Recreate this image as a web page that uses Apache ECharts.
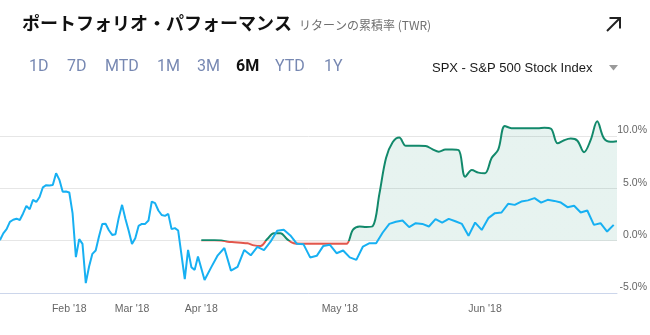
<!DOCTYPE html>
<html>
<head>
<meta charset="utf-8">
<script src="https://cdn.jsdelivr.net/npm/echarts@6/dist/echarts.min.js"></script>
<style>
html,body{margin:0;padding:0;background:#fff;}
#chart{width:650px;height:335px;}
#err{position:absolute;left:0;top:90px;font:9px monospace;color:#c00;white-space:pre-wrap;width:650px;}
</style>
</head>
<body>
<div id="chart"></div>
<div id="err"></div>
<script>
// ---------------- data ----------------
const holidays = ['2018-01-15', '2018-02-19', '2018-03-30', '2018-05-28'];
const firstDay = '2018-01-02';
const lastDay = '2018-06-29';
const portfolioStart = '2018-04-02';

// S&P 500 cumulative return (%) – trading days Jan 2 .. Mar 29
const spxBeforePortfolio = [
  0.05, 0.7, 1.1, 1.8, 2.0, 2.1, 1.98, 2.6, 3.32, 3.0,
  3.9, 3.7, 4.17, 5.1, 5.3, 5.28, 5.31, 6.45, 5.81, 4.68,
  4.7, 4.6, 2.6, -1.57, 0.15, -0.31, -4.06, -2.47, -1.26, -0.94,
  0.39, 1.59, 1.62, 1.0, 0.55, 0.62, 2.2, 3.42, 2.1, 0.95,
  -0.31, 0.24, 1.41, 1.6, 1.6, 1.92, 3.74, 3.58, 2.88, 2.45,
  2.37, 2.56, 1.1, 1.2, 0.97, -1.36, -3.68, -0.88, -2.53, -2.79,
  -1.52
];
// S&P 500 cumulative return (%) – trading days Apr 2 .. Jun 28
const spxWithPortfolio = [
  -3.75, -2.55, -1.4, -0.7, -2.86, -2.5, -0.9, -1.4, -0.6, -0.9,
  -0.1, 0.95, 1.05, 0.5, -0.3, -0.35, -1.6, -1.45, -0.5, -0.4,
  -1.2, -0.94, -1.6, -1.84, -0.56, -0.24, -0.24, 0.78, 1.6, 1.8,
  1.92, 1.29, 1.67, 1.6, 1.35, 2.06, 1.73, 2.08, 1.85, 1.6,
  0.46, 1.73, 1.03, 2.15, 2.63, 2.69, 3.52, 3.42, 3.74, 3.85,
  4.06, 3.64, 3.9, 3.8, 3.64, 3.2, 3.33, 2.69, 2.88, 1.51,
  1.67, 0.87, 1.51
];
// Portfolio time-weighted return (%) – trading days Apr 2 .. Jun 29
const portfolio = [
  0.05, 0.03, 0.03, 0.02, -0.1, -0.15, -0.2, -0.25, -0.45, -0.5,
  0.15, 0.7, 0.7, 0.15, -0.25, -0.3, -0.3, -0.3, -0.3, -0.3,
  -0.3, -0.3, -0.3, 1.05, 1.35, 1.3, 1.4, 4.5, 7.9, 9.4,
  9.85, 9.06, 9.06, 9.08, 9.05, 8.75, 8.5, 8.7, 8.7, 8.65,
  6.1, 6.75, 6.5, 6.45, 7.9, 8.7, 10.95, 10.75, 10.75, 10.75,
  10.75, 10.75, 10.8, 10.7, 9.3, 9.6, 9.75, 9.55, 8.45, 9.6,
  11.4, 9.8, 9.45, 9.5
];

const monthNames = ['Jan', 'Feb', 'Mar', 'Apr', 'May', 'Jun', 'Jul', 'Aug', 'Sep', 'Oct', 'Nov', 'Dec'];
const yMin = -5, yMax = 10, yStep = 5;

const titleText = 'ポートフォリオ・パフォーマンス';
const subtitleText = 'リターンの累積率 (TWR)';
const rangeTabs = ['1D', '7D', 'MTD', '1M', '3M', '6M', 'YTD', '1Y'];
const activeTab = '6M';
const benchmarkName = 'SPX - S&P 500 Stock Index';

// ---------------- layout / style ----------------
const tabX = [29, 67, 105, 157, 197, 236, 275, 324];
const GREEN = '#12896b', RED = '#e2574c', BLUE = '#17b0f2';

// ---------------- build ordinal axis ----------------
function tradingDays() {
  const out = [];
  let t = Date.parse(firstDay + 'T00:00:00Z');
  const end = Date.parse(lastDay + 'T00:00:00Z');
  while (t <= end) {
    const d = new Date(t);
    const s = d.toISOString().slice(0, 10);
    const dow = d.getUTCDay();
    if (dow !== 0 && dow !== 6 && holidays.indexOf(s) < 0) out.push(s);
    t += 86400000;
  }
  return out;
}
const days = tradingDays();
const preDays = days.filter(d => d < portfolioStart);
const postDays = days.filter(d => d >= portfolioStart);

// Ordinal axis: from the portfolio start, portfolio and benchmark
// carry separate time stamps, so each trading day has two slots.
const categories = [], spxData = [], portData = [];
preDays.forEach((d, i) => {
  categories.push(d); spxData.push(spxBeforePortfolio[i]); portData.push(null);
});
postDays.forEach((d, i) => {
  categories.push(d + ' P'); portData.push(portfolio[i]); spxData.push(null);
  if (i < spxWithPortfolio.length) {
    categories.push(d + ' B'); spxData.push(spxWithPortfolio[i]); portData.push(null);
  }
});
function monthOf(c) { return +c.slice(5, 7); }

try {
const chart = echarts.init(document.getElementById('chart'), null, { renderer: 'canvas' });

const graphics = [
  { type: 'text', x: 22, y: 23, style: { text: titleText, fill: '#111', font: 'bold 18px "Noto Sans CJK JP"', align: 'left', verticalAlign: 'middle' } },
  { type: 'text', x: 299, y: 25, style: { text: subtitleText, fill: '#6f6f6f', font: '12px "Noto Sans CJK JP"', align: 'left', verticalAlign: 'middle' } },
  { type: 'polyline', shape: { points: [[607, 31], [620, 18]] }, style: { stroke: '#222', lineWidth: 2, fill: null } },
  { type: 'polyline', shape: { points: [[609.5, 18], [620, 18], [620, 28.5]] }, style: { stroke: '#222', lineWidth: 2, fill: null } },
  { type: 'text', x: 432, y: 68, style: { text: benchmarkName, fill: '#1a1a1a', font: '13px "Liberation Sans"', align: 'left', verticalAlign: 'middle' } },
  { type: 'polygon', shape: { points: [[609, 65], [618, 65], [613.5, 70.5]] }, style: { fill: '#9a9a9a' } }
];
rangeTabs.forEach((t, i) => {
  const on = t === activeTab;
  graphics.push({
    type: 'text', x: tabX[i], y: 67,
    style: { text: t, fill: on ? '#111' : '#7788b2', font: (on ? 'bold ' : '') + '16px Roboto', align: 'left', verticalAlign: 'middle' }
  });
});

chart.setOption({
  animation: false,
  backgroundColor: '#fff',
  graphic: graphics,
  grid: { left: 0, right: 33, top: 136, bottom: 42, containLabel: false },
  xAxis: {
    type: 'category',
    data: categories,
    boundaryGap: false,
    axisLine: { onZero: false, lineStyle: { color: '#ccd6eb', width: 1 } },
    axisTick: { show: false },
    splitLine: { show: false },
    axisLabel: {
      color: '#666',
      fontSize: 10.5,
      fontFamily: 'Liberation Sans',
      margin: 11,
      interval: function (index, value) {
        return index > 0 && monthOf(value) !== monthOf(categories[index - 1]);
      },
      formatter: function (value) {
        return monthNames[monthOf(value) - 1] + " '" + value.slice(2, 4);
      }
    }
  },
  yAxis: {
    type: 'value',
    position: 'right',
    min: yMin, max: yMax, interval: yStep,
    axisLine: { show: false },
    axisTick: { show: false },
    splitLine: { lineStyle: { color: '#e6e6e6', width: 1 } },
    axisLabel: {
      color: '#666',
      fontSize: 10.5,
      fontFamily: 'Liberation Sans',
      align: 'right',
      verticalAlign: 'bottom',
      margin: 30,
      formatter: v => v.toFixed(1) + '%'
    }
  },
  series: [
    {
      name: 'Portfolio',
      type: 'line',
      data: portData,
      connectNulls: true,
      smooth: 0.35,
      symbol: 'none',
      clip: false,
      lineStyle: { width: 2, color: GREEN },
      areaStyle: { color: GREEN, opacity: 0.1 },
      z: 2
    },
    {
      name: 'SPX',
      type: 'line',
      data: spxData,
      connectNulls: true,
      symbol: 'none',
      clip: false,
      lineStyle: { width: 2, color: BLUE },
      itemStyle: { color: BLUE },
      z: 3
    }
  ]
});

// Green above the zero line, red below: split colour at the pixel of y = 0
const zeroY = chart.convertToPixel({ yAxisIndex: 0 }, 0);
const H = 335;
const f = Math.min(1, Math.max(0, zeroY / H));
function split(colAbove, colBelow) {
  return {
    type: 'linear', x: 0, y: 0, x2: 0, y2: H, global: true,
    colorStops: [
      { offset: 0, color: colAbove }, { offset: f, color: colAbove },
      { offset: f, color: colBelow }, { offset: 1, color: colBelow }
    ]
  };
}
chart.setOption({
  series: [{
    name: 'Portfolio',
    lineStyle: { color: split(GREEN, RED) },
    areaStyle: { color: split('rgba(18,137,107,0.1)', 'rgba(226,87,76,0.12)'), opacity: 1 }
  }]
});
} catch (e) {
  document.getElementById('err').textContent = String(e && e.stack || e);
}
</script>
</body>
</html>
